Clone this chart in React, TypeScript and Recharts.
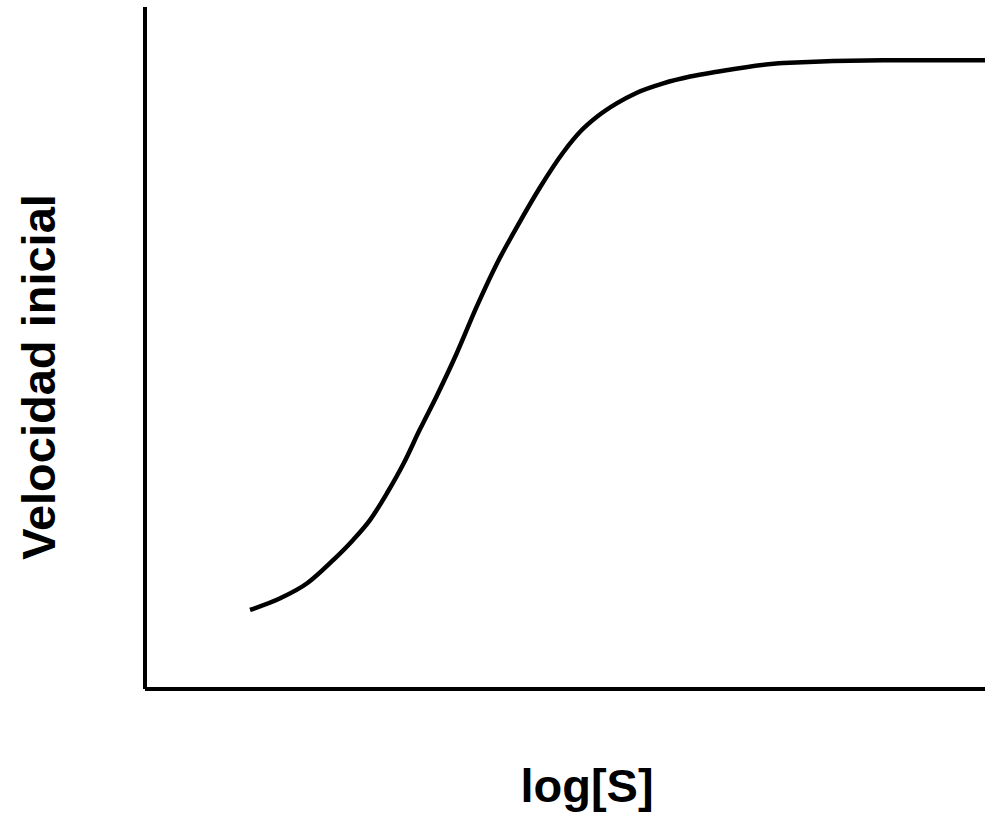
import { LineChart, Line, XAxis, YAxis, Label } from 'recharts';

// curva sigmoidea: log[S] vs velocidad inicial (unidades arbitrarias)
const logS = [1.25, 1.61, 1.93, 2.24, 2.48, 2.68, 2.88, 3.08, 3.27, 3.47, 3.71, 3.95, 4.19, 4.43, 4.7, 4.98, 5.18, 5.38, 5.62, 5.85, 6.17, 6.49, 6.81, 7.6, 8.79, 10];
const velocidad = [1.16, 1.33, 1.55, 1.89, 2.19, 2.48, 2.87, 3.31, 3.8, 4.29, 4.92, 5.61, 6.24, 6.78, 7.35, 7.87, 8.17, 8.39, 8.59, 8.74, 8.88, 8.98, 9.05, 9.18, 9.22, 9.22];

const data = logS.map((x, i) => ({ x, v: velocidad[i] }));

const labelFont = {
  fontFamily: '"Liberation Sans", Arial, sans-serif',
  fontWeight: 700,
  fontSize: 47,
  fill: '#000',
};

export default function App() {
  return (
    <div style={{ position: 'absolute', left: 0, top: 0, background: '#fff' }}>
      <LineChart width={985} height={814} data={data} margin={{ top: 7, right: 0, bottom: 0, left: 0 }}>
        <XAxis
          type="number"
          dataKey="x"
          domain={[0, 10]}
          tick={false}
          tickLine={false}
          height={125}
          axisLine={{ stroke: '#000', strokeWidth: 4 }}
        >
          <Label
            content={(props: any) => {
              const vb = props.viewBox;
              return (
                <text x={vb.x + vb.width / 2 + 22} y={vb.y + 113} textAnchor="middle" {...labelFont}>
                  log[S]
                </text>
              );
            }}
          />
        </XAxis>
        <YAxis
          type="number"
          domain={[0, 10]}
          tick={false}
          tickLine={false}
          width={145}
          axisLine={{ stroke: '#000', strokeWidth: 4 }}
        >
          <Label
            content={(props: any) => {
              const vb = props.viewBox;
              const cx = vb.x + 55;
              const cy = vb.y + vb.height / 2 + 29;
              return (
                <text x={cx} y={cy} textAnchor="middle" transform={`rotate(-90, ${cx}, ${cy})`} {...labelFont}>
                  Velocidad inicial
                </text>
              );
            }}
          />
        </YAxis>
        <Line
          type="monotone"
          dataKey="v"
          stroke="#000"
          strokeWidth={4.5}
          dot={false}
          activeDot={false}
          isAnimationActive={false}
        />
      </LineChart>
    </div>
  );
}
